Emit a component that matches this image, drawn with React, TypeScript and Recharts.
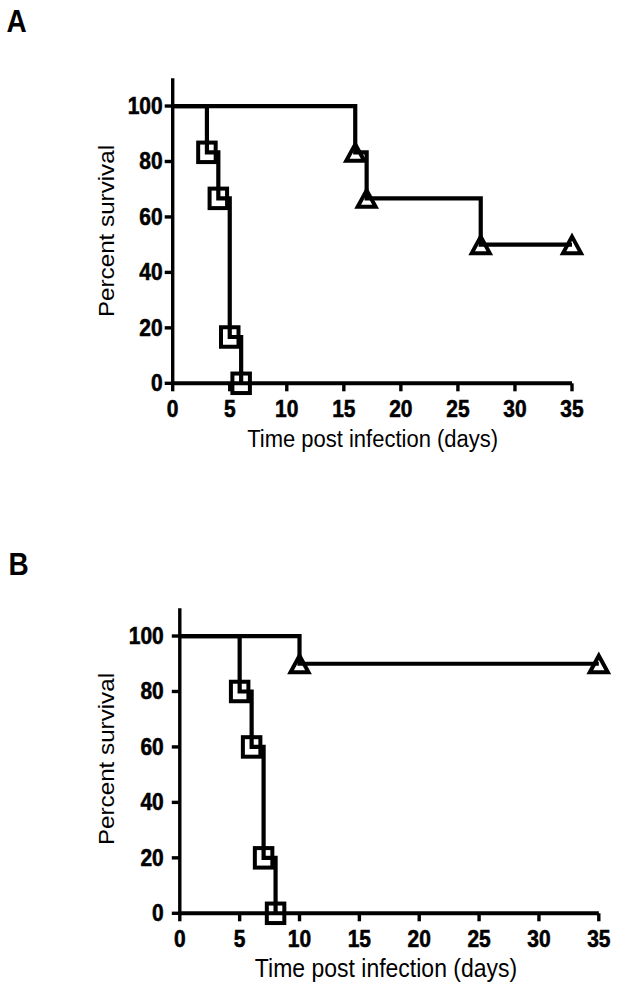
import React from "react";
import { LineChart, Line, XAxis, YAxis } from "recharts";

// ---- data ----
const xTicks = [0, 5, 10, 15, 20, 25, 30, 35];
const yTicks = [0, 20, 40, 60, 80, 100];

const daysASquare = [0, 3, 4, 5, 6];
const survASquare = [100, 83.3, 66.7, 16.7, 0];
const daysATriangle = [0, 16, 17, 27, 35];
const survATriangle = [100, 83.3, 66.7, 50, 50];

const daysBSquare = [0, 5, 6, 7, 8];
const survBSquare = [100, 80, 60, 20, 0];
const daysBTriangle = [0, 10, 35];
const survBTriangle = [100, 90, 90];

const xTitle = "Time post infection (days)";
const yTitle = "Percent survival";

const toRows = (xs: number[], ys: number[]) => xs.map((x, i) => ({ x, y: ys[i] }));

const FONT = "'Liberation Sans', Arial, sans-serif";
const Y_AXIS_W = 60;
const X_AXIS_H = 40;
const LINE_W = 4.2;

const squareDot = (props: any) => {
  const { cx, cy, index } = props;
  if (index === 0 || cx == null) return <g key={`s${index}`} />;
  const w = 17.5;
  const h = 19.5;
  return (
    <rect
      key={`s${index}`}
      x={cx - w / 2}
      y={cy - h / 2}
      width={w}
      height={h}
      fill="none"
      stroke="#000"
      strokeWidth={4}
    />
  );
};

const triangleDot = (props: any) => {
  const { cx, cy, index } = props;
  if (index === 0 || cx == null) return <g key={`t${index}`} />;
  const d = `M${cx},${cy - 8} L${cx + 9},${cy + 8.5} L${cx - 9},${cy + 8.5} Z`;
  return <path key={`t${index}`} d={d} fill="none" stroke="#000" strokeWidth={4} strokeLinejoin="miter" />;
};

const makeXTick = (dy: number) => (props: any) => {
  const { x, y, payload } = props;
  return (
    <text
      transform={`translate(${x},${y + dy}) scale(1,1.12)`}
      textAnchor="middle"
      dominantBaseline="central"
      fontFamily={FONT}
      fontWeight="bold"
      fontSize={21}
      fill="#000"
      stroke="#000"
      strokeWidth={0.5}
    >
      {payload.value}
    </text>
  );
};

const makeYTick = () => (props: any) => {
  const { x, y, payload } = props;
  return (
    <text
      transform={`translate(${x},${y}) scale(1,1.12)`}
      textAnchor="end"
      dominantBaseline="central"
      fontFamily={FONT}
      fontWeight="bold"
      fontSize={21}
      fill="#000"
      stroke="#000"
      strokeWidth={0.5}
    >
      {payload.value}
    </text>
  );
};

type PanelProps = {
  top: number;
  height: number;
  plot: { top: number; left: number; right: number; bottom: number };
  sq: { x: number; y: number }[];
  tri: { x: number; y: number }[];
  xTickDy: number;
  yTickMargin: number;
};

const Panel = ({ top, height, plot, sq, tri, xTickDy, yTickMargin }: PanelProps) => (
  <div style={{ position: "absolute", left: 0, top, width: 620, height }}>
    <LineChart
      width={620}
      height={height}
      margin={{
        top: plot.top,
        right: plot.right,
        left: plot.left - Y_AXIS_W,
        bottom: plot.bottom - X_AXIS_H,
      }}
    >
      <XAxis
        type="number"
        dataKey="x"
        domain={[0, 35]}
        ticks={xTicks}
        interval={0}
        height={X_AXIS_H}
        axisLine={{ stroke: "#000", strokeWidth: 4 }}
        tickLine={{ stroke: "#000", strokeWidth: 3.4 }}
        tickSize={8}
        tickMargin={0}
        tick={makeXTick(xTickDy)}
        allowDecimals={false}
      />
      <YAxis
        type="number"
        dataKey="y"
        domain={[0, 110]}
        ticks={yTicks}
        interval={0}
        width={Y_AXIS_W}
        axisLine={{ stroke: "#000", strokeWidth: 3.4 }}
        tickLine={{ stroke: "#000", strokeWidth: 3.4 }}
        tickSize={8}
        tickMargin={yTickMargin}
        tick={makeYTick()}
      />
      <Line
        data={tri}
        dataKey="y"
        type="stepAfter"
        stroke="#000"
        strokeWidth={LINE_W}
        dot={triangleDot}
        activeDot={false}
        isAnimationActive={false}
      />
      <Line
        data={sq}
        dataKey="y"
        type="stepAfter"
        stroke="#000"
        strokeWidth={LINE_W}
        dot={squareDot}
        activeDot={false}
        isAnimationActive={false}
      />
    </LineChart>
  </div>
);

export default function App() {
  return (
    <div style={{ position: "absolute", left: 0, top: 0, width: 620, height: 994, background: "#fff" }}>
      <Panel
        top={0}
        height={480}
        plot={{ top: 78.3, left: 172.7, right: 48, bottom: 96.7 }}
        sq={toRows(daysASquare, survASquare)}
        tri={toRows(daysATriangle, survATriangle)}
        xTickDy={17.7}
        yTickMargin={2}
      />
      <Panel
        top={500}
        height={494}
        plot={{ top: 108.3, left: 179.8, right: 21.2, bottom: 80.7 }}
        sq={toRows(daysBSquare, survBSquare)}
        tri={toRows(daysBTriangle, survBTriangle)}
        xTickDy={18}
        yTickMargin={8}
      />
      <svg
        width={620}
        height={994}
        style={{ position: "absolute", left: 0, top: 0, pointerEvents: "none" }}
      >
        <g fontFamily={FONT} fill="#000">
          <text transform="translate(16.7,31.7) scale(1,1.1)" textAnchor="middle" fontSize={28} fontWeight="bold">
            A
          </text>
          <text transform="translate(18.5,575) scale(1,1.1)" textAnchor="middle" fontSize={28} fontWeight="bold">
            B
          </text>
          <text transform="translate(372.6,447) scale(1,1.12)" textAnchor="middle" fontSize={22}>
            {xTitle}
          </text>
          <text transform="translate(386,977) scale(1,1.12)" textAnchor="middle" fontSize={23}>
            {xTitle}
          </text>
          <text transform="translate(114,231) rotate(-90) scale(1.1,1)" textAnchor="middle" fontSize={22}>
            {yTitle}
          </text>
          <text transform="translate(114,759) rotate(-90) scale(1.1,1)" textAnchor="middle" fontSize={22}>
            {yTitle}
          </text>
        </g>
      </svg>
    </div>
  );
}
